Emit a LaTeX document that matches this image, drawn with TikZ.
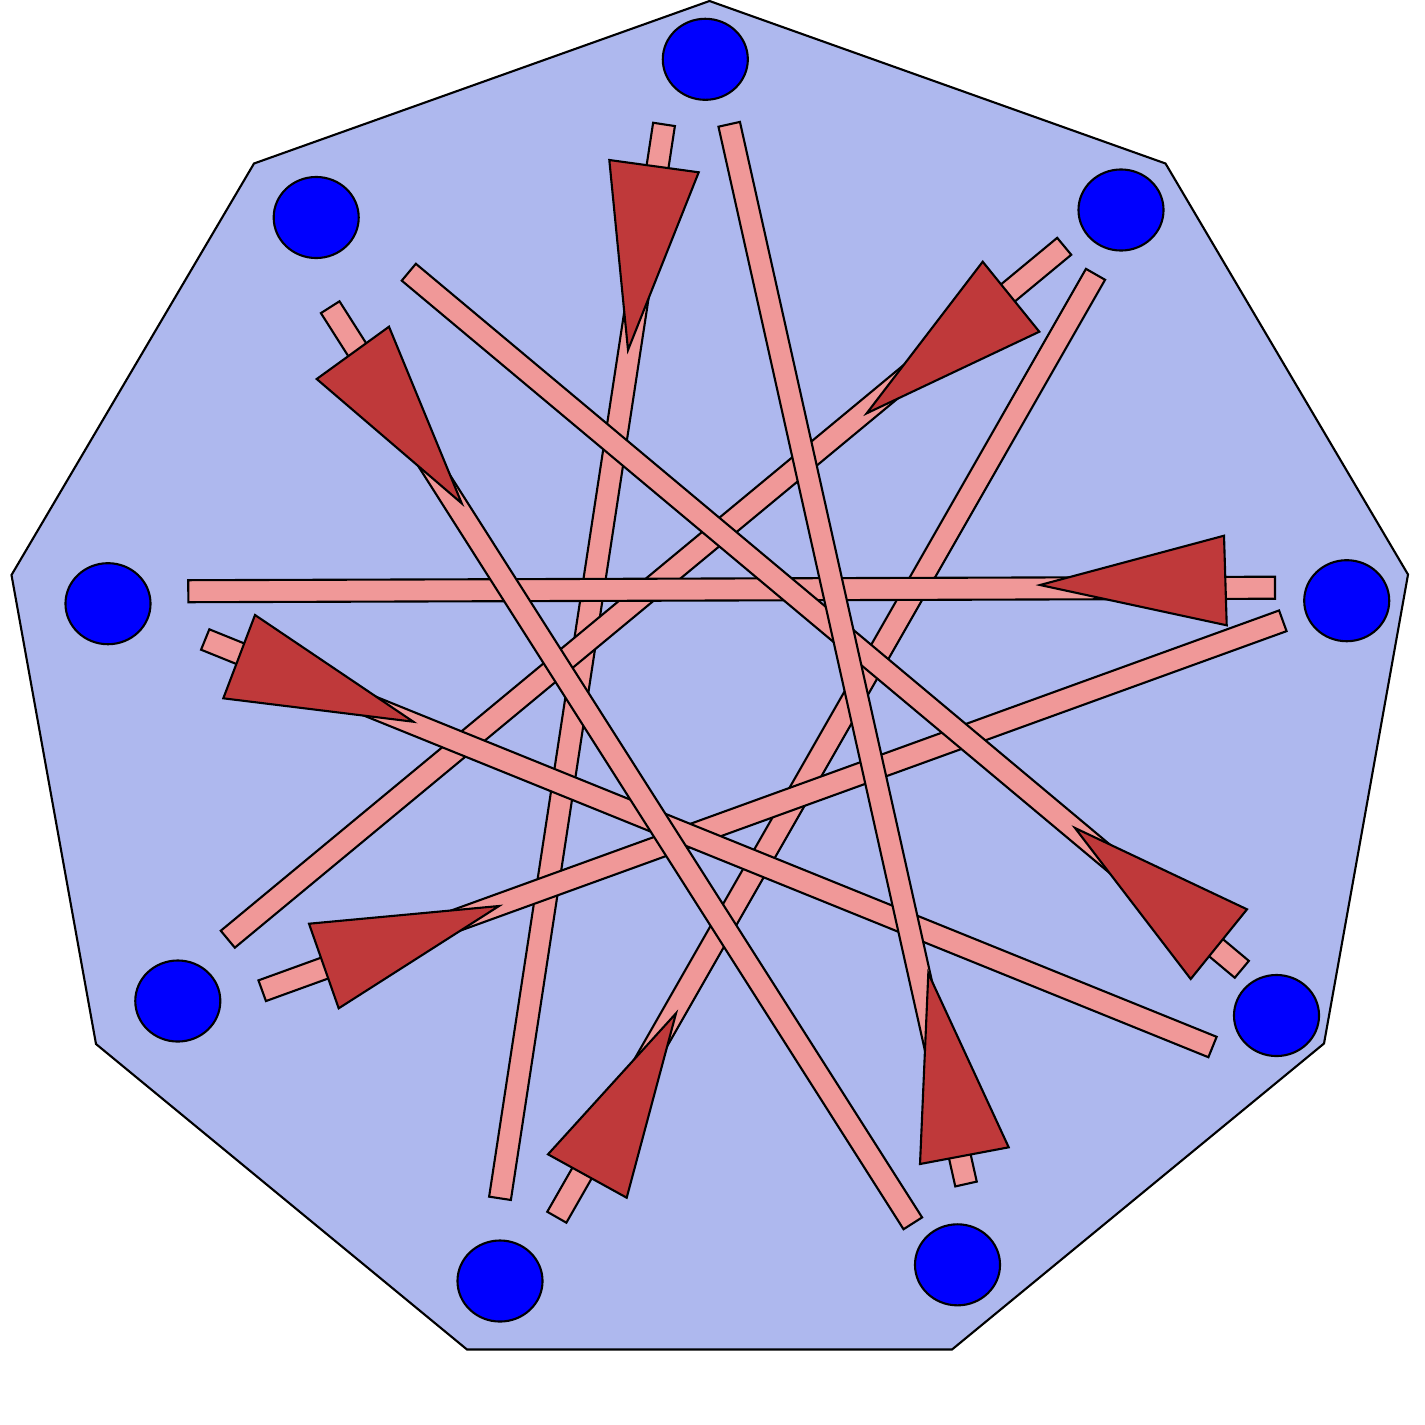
\documentclass[tikz,border=0pt]{standalone}
\usepackage{tikz}
\usetikzlibrary{calc,shapes.geometric}

\definecolor{boardblue}{RGB}{174,184,238}
\definecolor{spotblue}{RGB}{0,0,255}
\definecolor{barpink}{RGB}{240,152,152}
\definecolor{headred}{RGB}{191,57,58}

% a flat stick of width 22 between two named points
\newcommand{\stick}[2]{%
\filldraw[bar] ($(#1)!1.1mm!90:(#2)$) -- ($(#2)!1.1mm!-90:(#1)$)
  -- ($(#2)!1.1mm!90:(#1)$) -- ($(#1)!1.1mm!-90:(#2)$) -- cycle;}

\begin{document}
\begin{tikzpicture}[x=0.01cm, y=-0.01cm,
bar/.style={fill=barpink, draw=black, line width=0.6pt},
head/.style={fill=headred, draw=black, line width=0.6pt},
spot/.style={ellipse, fill=spotblue, draw=black, line width=0.6pt,
  minimum width=0.85cm, minimum height=0.81cm, inner sep=0pt},
]
\useasboundingbox (0,0) rectangle (1425,1424);

% board
\filldraw[fill=boardblue, line width=0.6pt]
(709.5,1) -- (1165.5,163.5) -- (1408,574.5) -- (1324,1043.5)
-- (952,1349.5) -- (467,1349.5) -- (96,1044) -- (11.5,575)
-- (254,163.5) -- cycle;

% spots
\node[spot] (s0) at (705.3,59.3) {};
\node[spot] (s1) at (1121,210) {};
\node[spot] (s2) at (1346.7,600.7) {};
\node[spot] (s3) at (1276.5,1015.5) {};
\node[spot] (s4) at (957.5,1264.8) {};
\node[spot] (s5) at (500,1281) {};
\node[spot] (s6) at (177.8,1001) {};
\node[spot] (s7) at (108,603.7) {};
\node[spot] (s8) at (316.2,217.5) {};

% sticks and their heads
\foreach \e/\sx/\sy/\tx/\ty/\ax/\ay/\bx/\by/\cx/\cy in {
05/664/124.4/500/1198.3/609.3/160/698.7/172.3/628/350,
15/556.8/1217.2/1095.5/274.3/548/1154.3/626.7/1197.7/676/1013.3,
16/1064.2/246.3/227.8/939.2/982.7/261.7/1039.3/331.7/866.7/413.3,
26/262.2/990.7/1282.8/620.8/309/923.7/338.7/1008.3/499/906,
27/1275/587.7/188.3/591.2/1224/535.7/1226.7/625.3/1040/585,
37/205.2/639.5/1212.5/1047/255/615/223.3/698.3/413.3/721.7,
38/1241.8/969.3/408.8/272.2/1247/909.3/1190.7/979/1075/828,
48/330.2/307.2/912.8/1223.3/316.7/379/389/326.7/461.7/503.3,
04/966/1184/729.2/124.3/920/1164/1008.7/1147.3/928.3/973.3}{
\coordinate (p\e) at (\sx,\sy);
\coordinate (q\e) at (\tx,\ty);
\stick{p\e}{q\e}
\filldraw[head] (\ax,\ay) -- (\bx,\by) -- (\cx,\cy) -- cycle;
}
\end{tikzpicture}
\end{document}
